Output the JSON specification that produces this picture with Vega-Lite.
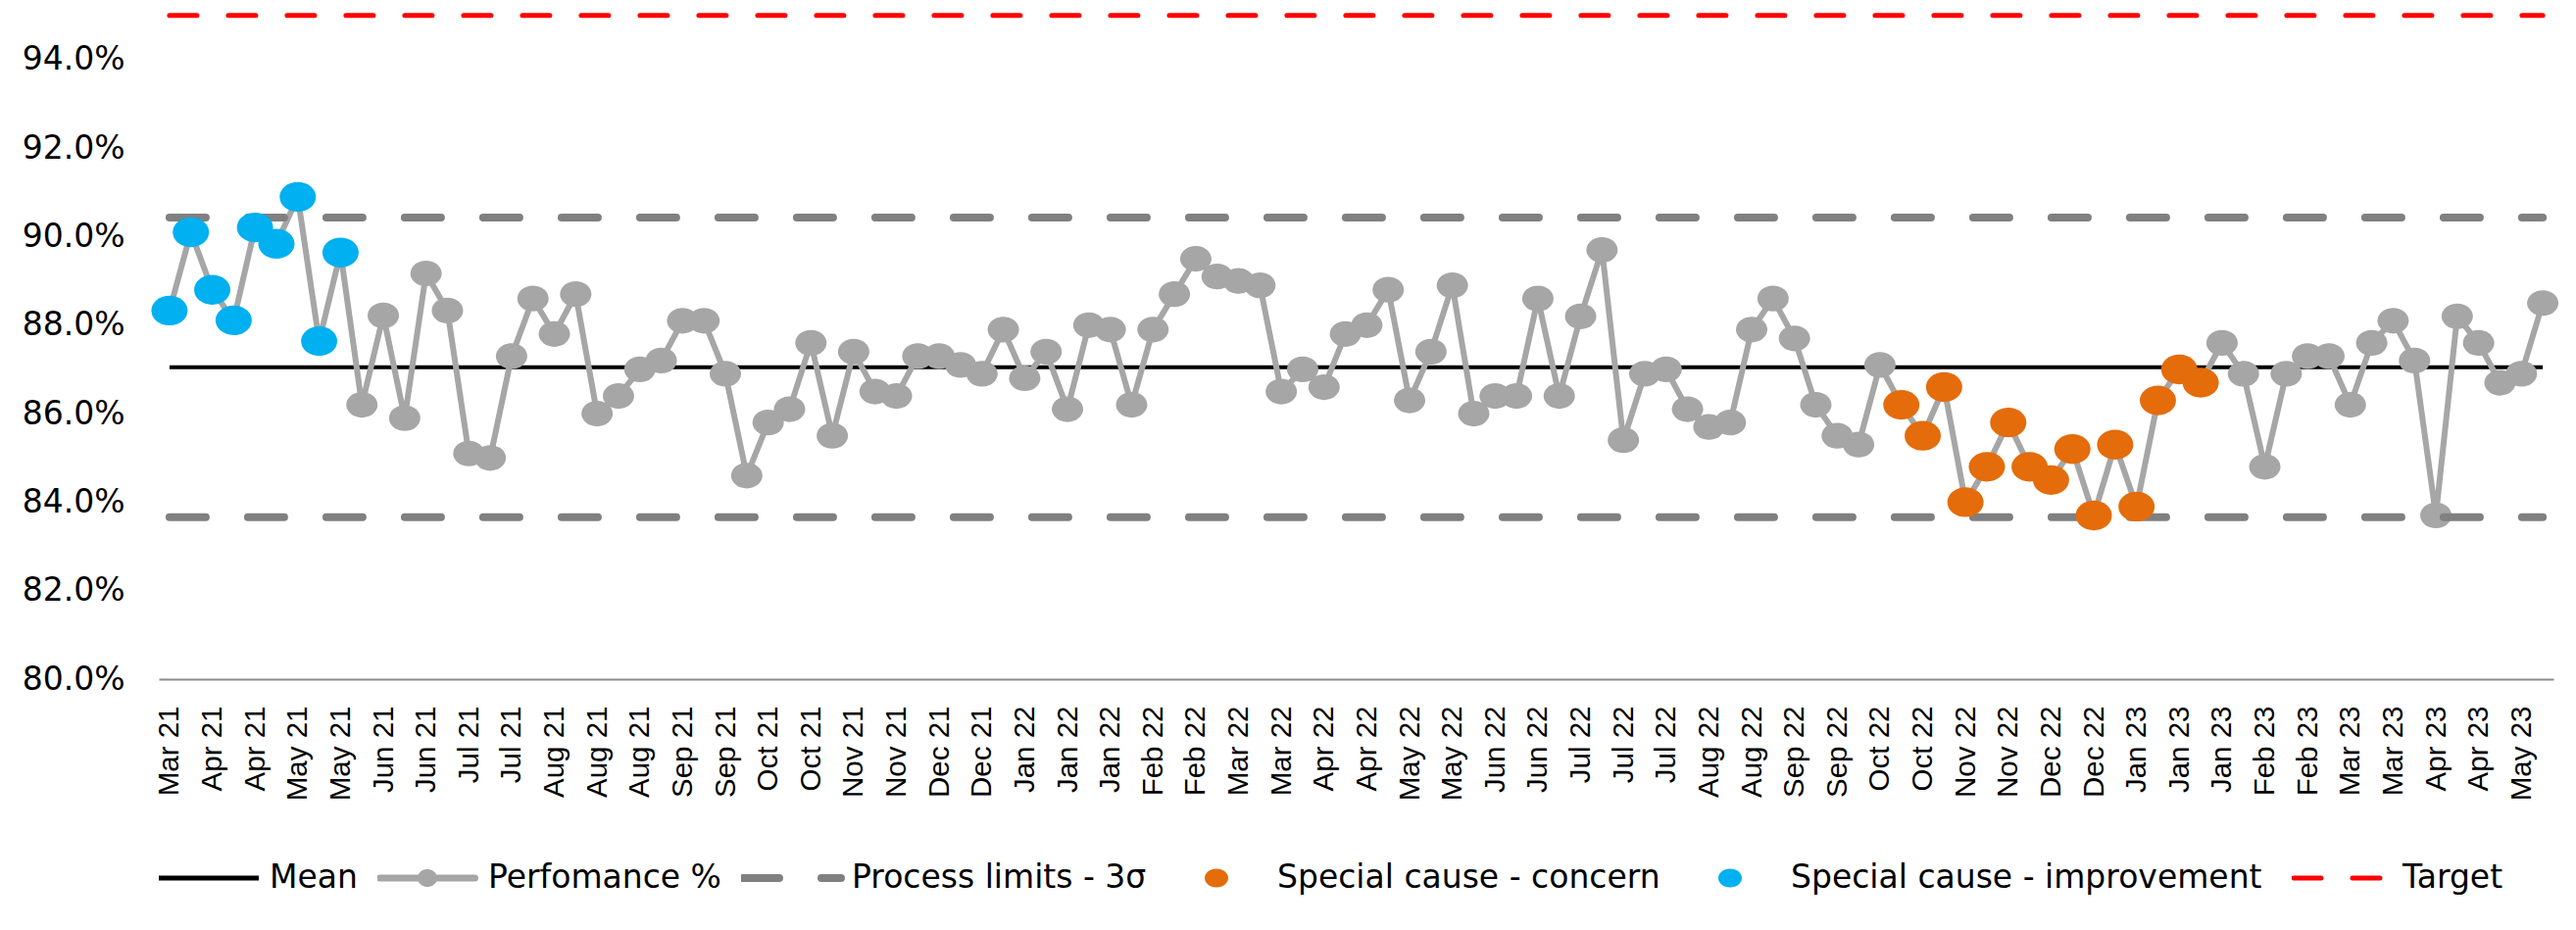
{
  "$schema": "https://vega.github.io/schema/vega-lite/v6.json",
  "width": 2443,
  "height": 693,
  "autosize": "none",
  "padding": {"left": 162, "top": 0, "right": 23, "bottom": 256},
  "background": "white",
  "config": {
    "view": {"stroke": null},
    "font": "DejaVu Sans"
  },
  "datasets": {
    "weekly": [
      {"week": "2021-03-28", "pct": 88.33, "flag": "Special cause  - improvement"},
      {"week": "2021-04-04", "pct": 90.10, "flag": "Special cause  - improvement"},
      {"week": "2021-04-11", "pct": 88.80, "flag": "Special cause  - improvement"},
      {"week": "2021-04-18", "pct": 88.11, "flag": "Special cause  - improvement"},
      {"week": "2021-04-25", "pct": 90.21, "flag": "Special cause  - improvement"},
      {"week": "2021-05-02", "pct": 89.84, "flag": "Special cause  - improvement"},
      {"week": "2021-05-09", "pct": 90.90, "flag": "Special cause  - improvement"},
      {"week": "2021-05-16", "pct": 87.64, "flag": "Special cause  - improvement"},
      {"week": "2021-05-23", "pct": 89.64, "flag": "Special cause  - improvement"},
      {"week": "2021-05-30", "pct": 86.2},
      {"week": "2021-06-06", "pct": 88.22},
      {"week": "2021-06-13", "pct": 85.9},
      {"week": "2021-06-20", "pct": 89.17},
      {"week": "2021-06-27", "pct": 88.33},
      {"week": "2021-07-04", "pct": 85.1},
      {"week": "2021-07-11", "pct": 85.0},
      {"week": "2021-07-18", "pct": 87.3},
      {"week": "2021-07-25", "pct": 88.6},
      {"week": "2021-08-01", "pct": 87.8},
      {"week": "2021-08-08", "pct": 88.7},
      {"week": "2021-08-15", "pct": 86.0},
      {"week": "2021-08-22", "pct": 86.4},
      {"week": "2021-08-29", "pct": 87.0},
      {"week": "2021-09-05", "pct": 87.2},
      {"week": "2021-09-12", "pct": 88.1},
      {"week": "2021-09-19", "pct": 88.1},
      {"week": "2021-09-26", "pct": 86.9},
      {"week": "2021-10-03", "pct": 84.6},
      {"week": "2021-10-10", "pct": 85.8},
      {"week": "2021-10-17", "pct": 86.1},
      {"week": "2021-10-24", "pct": 87.6},
      {"week": "2021-10-31", "pct": 85.5},
      {"week": "2021-11-07", "pct": 87.4},
      {"week": "2021-11-14", "pct": 86.5},
      {"week": "2021-11-21", "pct": 86.4},
      {"week": "2021-11-28", "pct": 87.3},
      {"week": "2021-12-05", "pct": 87.3},
      {"week": "2021-12-12", "pct": 87.1},
      {"week": "2021-12-19", "pct": 86.9},
      {"week": "2021-12-26", "pct": 87.9},
      {"week": "2022-01-02", "pct": 86.8},
      {"week": "2022-01-09", "pct": 87.4},
      {"week": "2022-01-16", "pct": 86.1},
      {"week": "2022-01-23", "pct": 88.0},
      {"week": "2022-01-30", "pct": 87.9},
      {"week": "2022-02-06", "pct": 86.2},
      {"week": "2022-02-13", "pct": 87.9},
      {"week": "2022-02-20", "pct": 88.7},
      {"week": "2022-02-27", "pct": 89.5},
      {"week": "2022-03-06", "pct": 89.1},
      {"week": "2022-03-13", "pct": 89.0},
      {"week": "2022-03-20", "pct": 88.9},
      {"week": "2022-03-27", "pct": 86.5},
      {"week": "2022-04-03", "pct": 87.0},
      {"week": "2022-04-10", "pct": 86.6},
      {"week": "2022-04-17", "pct": 87.8},
      {"week": "2022-04-24", "pct": 88.0},
      {"week": "2022-05-01", "pct": 88.8},
      {"week": "2022-05-08", "pct": 86.3},
      {"week": "2022-05-15", "pct": 87.4},
      {"week": "2022-05-22", "pct": 88.9},
      {"week": "2022-05-29", "pct": 86.0},
      {"week": "2022-06-05", "pct": 86.4},
      {"week": "2022-06-12", "pct": 86.4},
      {"week": "2022-06-19", "pct": 88.6},
      {"week": "2022-06-26", "pct": 86.4},
      {"week": "2022-07-03", "pct": 88.2},
      {"week": "2022-07-10", "pct": 89.7},
      {"week": "2022-07-17", "pct": 85.4},
      {"week": "2022-07-24", "pct": 86.9},
      {"week": "2022-07-31", "pct": 87.0},
      {"week": "2022-08-07", "pct": 86.1},
      {"week": "2022-08-14", "pct": 85.7},
      {"week": "2022-08-21", "pct": 85.8},
      {"week": "2022-08-28", "pct": 87.9},
      {"week": "2022-09-04", "pct": 88.6},
      {"week": "2022-09-11", "pct": 87.7},
      {"week": "2022-09-18", "pct": 86.2},
      {"week": "2022-09-25", "pct": 85.5},
      {"week": "2022-10-02", "pct": 85.3},
      {"week": "2022-10-09", "pct": 87.1},
      {"week": "2022-10-16", "pct": 86.2, "flag": "Special cause - concern"},
      {"week": "2022-10-23", "pct": 85.5, "flag": "Special cause - concern"},
      {"week": "2022-10-30", "pct": 86.6, "flag": "Special cause - concern"},
      {"week": "2022-11-06", "pct": 84.0, "flag": "Special cause - concern"},
      {"week": "2022-11-13", "pct": 84.8, "flag": "Special cause - concern"},
      {"week": "2022-11-20", "pct": 85.8, "flag": "Special cause - concern"},
      {"week": "2022-11-27", "pct": 84.8, "flag": "Special cause - concern"},
      {"week": "2022-12-04", "pct": 84.5, "flag": "Special cause - concern"},
      {"week": "2022-12-11", "pct": 85.2, "flag": "Special cause - concern"},
      {"week": "2022-12-18", "pct": 83.7, "flag": "Special cause - concern"},
      {"week": "2022-12-25", "pct": 85.3, "flag": "Special cause - concern"},
      {"week": "2023-01-01", "pct": 83.9, "flag": "Special cause - concern"},
      {"week": "2023-01-08", "pct": 86.3, "flag": "Special cause - concern"},
      {"week": "2023-01-15", "pct": 87.0, "flag": "Special cause - concern"},
      {"week": "2023-01-22", "pct": 86.7, "flag": "Special cause - concern"},
      {"week": "2023-01-29", "pct": 87.6},
      {"week": "2023-02-05", "pct": 86.9},
      {"week": "2023-02-12", "pct": 84.8},
      {"week": "2023-02-19", "pct": 86.9},
      {"week": "2023-02-26", "pct": 87.3},
      {"week": "2023-03-05", "pct": 87.3},
      {"week": "2023-03-12", "pct": 86.2},
      {"week": "2023-03-19", "pct": 87.6},
      {"week": "2023-03-26", "pct": 88.1},
      {"week": "2023-04-02", "pct": 87.2},
      {"week": "2023-04-09", "pct": 83.7},
      {"week": "2023-04-16", "pct": 88.2},
      {"week": "2023-04-23", "pct": 87.6},
      {"week": "2023-04-30", "pct": 86.7},
      {"week": "2023-05-07", "pct": 86.9},
      {"week": "2023-05-14", "pct": 88.5}
    ],
    "limits": [
      {"series": "Mean", "pct": 87.05},
      {"series": "Process limits - 3σ", "pct": 90.43},
      {"series": "Process limits - 3σ", "pct": 83.66},
      {"series": "Target", "pct": 95.0}
    ]
  },
  "layer": [
    {
      "data": {"name": "limits"},
      "transform": [{"filter": "datum.series === 'Mean'"}],
      "mark": {"type": "rule", "strokeWidth": 4},
      "encoding": {
        "x": {"datum": "2021-03-28", "type": "ordinal", "scale": {"type": "point", "padding": 0.5},
          "axis": {
            "title": null, "labelAngle": 270, "labelFont": "Liberation Sans", "labelFontSize": 29.5,
            "labelColor": "black", "labelPadding": 27, "ticks": false, "tickSize": 0,
            "domainColor": "#8C8C8C", "domainWidth": 2, "grid": false, "labelOverlap": false, "labelBound": false,
            "labelExpr": "(toDate(datum.value) - toDate('2021-03-28')) % 1209600000 === 0 ? utcFormat(toDate(datum.value), '%b %y') : ''"
          }},
        "x2": {"datum": "2023-05-14"},
        "y": {"field": "pct", "type": "quantitative", "scale": {"domain": [80, 95.35], "nice": false, "zero": false},
          "axis": {
            "title": null, "values": [80, 82, 84, 86, 88, 90, 92, 94],
            "labelExpr": "format(datum.value, '.1f') + '%'",
            "labelFont": "DejaVu Sans", "labelFontSize": 33, "labelColor": "black", "labelPadding": 35,
            "ticks": false, "tickSize": 0, "domain": false, "grid": false
          }},
        "color": {"field": "series", "type": "nominal",
          "scale": {
            "domain": ["Mean", "Perfomance %", "Process limits - 3σ", "Special cause - concern", "Special cause  - improvement", "Target"],
            "range": ["#000000", "#A6A6A6", "#808080", "#E46C0A", "#00B0F0", "#FF0000"]
          },
          "legend": {
            "title": null, "orient": "none", "legendX": 0, "legendY": 876, "direction": "horizontal",
            "padding": 0, "clipHeight": 40, "symbolSize": 100,
            "symbolOffset": 34.5, "labelOffset": 45.5, "columnPadding": 20,
            "labelFont": "DejaVu Sans", "labelFontSize": 33, "labelColor": "black", "labelLimit": 1000,
            "encode": {
              "symbols": {
                "update": {
                  "size": {"value": 100},
                  "shape": {"signal": "datum.value === 'Perfomance %' ? 'M-9.7,0H9.7M-1.3,0A1.3,1.1,0,1,0,1.3,0A1.3,1.1,0,1,0,-1.3,0Z' : (datum.value === 'Special cause - concern' || datum.value === 'Special cause  - improvement') ? 'M-10.2,0M-2.4,0A2.4,1.9,0,1,0,2.4,0A2.4,1.9,0,1,0,-2.4,0Z' : (datum.value === 'Mean' ? 'M-10.2,0H10.2' : 'M-9.8,0H10.2')"},
                  "fill": {"signal": "(datum.value === 'Perfomance %' || datum.value === 'Special cause - concern' || datum.value === 'Special cause  - improvement') ? scale('color', datum.value) : 'transparent'"},
                  "stroke": {"signal": "(datum.value === 'Special cause - concern' || datum.value === 'Special cause  - improvement') ? 'transparent' : scale('color', datum.value)"},
                  "strokeWidth": {"signal": "datum.value === 'Mean' ? 5 : datum.value === 'Perfomance %' ? 7 : datum.value === 'Process limits - 3σ' ? 8 : datum.value === 'Target' ? 5 : 0"},
                  "strokeDash": {"signal": "datum.value === 'Process limits - 3σ' ? [37, 43] : datum.value === 'Target' ? [28, 32] : [1, 0]"},
                  "strokeCap": {"signal": "datum.value === 'Mean' ? 'butt' : 'round'"},
                  "opacity": {"value": 1}
                }
              }
            }
          }}
      }
    },
    {
      "data": {"name": "weekly"},
      "mark": {"type": "line", "strokeWidth": 6, "strokeJoin": "round", "strokeCap": "round"},
      "encoding": {
        "x": {"field": "week", "type": "ordinal", "scale": {"type": "point", "padding": 0.5}},
        "y": {"field": "pct", "type": "quantitative", "scale": {"domain": [80, 95.35], "nice": false, "zero": false}},
        "color": {"datum": "Perfomance %", "type": "nominal"}
      }
    },
    {
      "data": {"name": "weekly"},
      "mark": {"type": "point", "filled": true, "opacity": 1, "strokeWidth": 0, "size": 1024,
        "shape": "M-1,0A1,0.82,0,1,0,1,0A1,0.82,0,1,0,-1,0Z"},
      "encoding": {
        "x": {"field": "week", "type": "ordinal", "scale": {"type": "point", "padding": 0.5}},
        "y": {"field": "pct", "type": "quantitative", "scale": {"domain": [80, 95.35], "nice": false, "zero": false}},
        "color": {"datum": "Perfomance %", "type": "nominal"}
      }
    },
    {
      "data": {"name": "limits"},
      "transform": [{"filter": "datum.series === 'Process limits - 3σ'"}],
      "mark": {"type": "rule", "strokeWidth": 8, "strokeDash": [37, 43], "strokeCap": "round"},
      "encoding": {
        "x": {"datum": "2021-03-28", "type": "ordinal", "scale": {"type": "point", "padding": 0.5}},
        "x2": {"datum": "2023-05-14"},
        "y": {"field": "pct", "type": "quantitative", "scale": {"domain": [80, 95.35], "nice": false, "zero": false}},
        "color": {"field": "series", "type": "nominal"}
      }
    },
    {
      "data": {"name": "weekly"},
      "transform": [{"filter": "isValid(datum.flag)"}],
      "mark": {"type": "point", "filled": true, "opacity": 1, "strokeWidth": 0, "size": 1369,
        "shape": "M-1,0A1,0.82,0,1,0,1,0A1,0.82,0,1,0,-1,0Z"},
      "encoding": {
        "x": {"field": "week", "type": "ordinal", "scale": {"type": "point", "padding": 0.5}},
        "y": {"field": "pct", "type": "quantitative", "scale": {"domain": [80, 95.35], "nice": false, "zero": false}},
        "color": {"field": "flag", "type": "nominal"}
      }
    },
    {
      "data": {"name": "limits"},
      "transform": [{"filter": "datum.series === 'Target'"}],
      "mark": {"type": "rule", "strokeWidth": 5, "strokeDash": [28, 32], "strokeCap": "round"},
      "encoding": {
        "x": {"datum": "2021-03-28", "type": "ordinal", "scale": {"type": "point", "padding": 0.5}},
        "x2": {"datum": "2023-05-14"},
        "y": {"field": "pct", "type": "quantitative", "scale": {"domain": [80, 95.35], "nice": false, "zero": false}},
        "color": {"field": "series", "type": "nominal"}
      }
    }
  ]
}
